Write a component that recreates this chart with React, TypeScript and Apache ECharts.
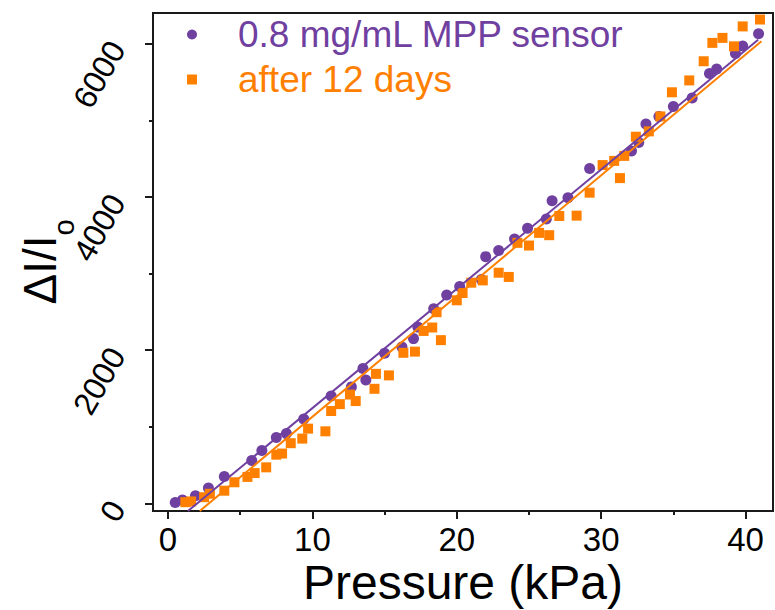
import React, { useEffect, useRef } from 'react';
import * as echarts from 'echarts';

const FONT = '"Liberation Sans", Arial, sans-serif';
const PURPLE = '#7040A0';
const ORANGE = '#FF8000';
const FRAME = '#1a1a1a';

const seriesNames = ['0.8 mg/mL MPP sensor', 'after 12 days'];
const xAxisTitle = 'Pressure (kPa)';

const sensorPressure = [0.5, 1.0, 1.9, 2.8, 3.9, 5.8, 6.5, 7.5, 8.2, 9.4, 11.3, 12.7, 13.5, 13.7, 15.0, 16.2, 17.0, 17.3, 18.4, 19.3, 20.2, 21.7, 22.0, 22.9, 24.0, 24.9, 26.2, 26.6, 27.7, 29.2, 32.1, 32.6, 33.1, 34.0, 35.0, 36.3, 37.5, 38.0, 39.3, 39.8, 40.9];
const sensorResponse = [10, 45, 100, 200, 350, 560, 690, 860, 910, 1100, 1400, 1520, 1760, 1610, 1960, 2040, 2150, 2300, 2540, 2720, 2830, 2920, 3220, 3300, 3450, 3590, 3710, 3950, 3990, 4370, 4600, 4710, 4950, 5050, 5180, 5290, 5610, 5670, 5870, 5970, 6130];

const agedPressure = [1.2, 1.6, 2.5, 2.9, 3.9, 4.6, 5.5, 6.0, 6.8, 7.5, 7.9, 8.5, 9.3, 9.7, 10.9, 11.3, 11.9, 12.6, 13.0, 14.3, 14.4, 15.3, 16.3, 17.1, 17.7, 18.3, 18.9, 18.6, 20.0, 20.4, 21.0, 21.8, 22.9, 23.6, 24.2, 25.0, 25.7, 26.4, 27.1, 28.3, 29.2, 30.1, 30.9, 31.3, 31.6, 32.4, 33.3, 34.1, 34.9, 36.1, 37.1, 37.7, 38.4, 39.2, 39.8, 41.0];
const agedResponse = [15, 25, 80, 125, 165, 275, 345, 395, 470, 635, 650, 785, 845, 975, 940, 1205, 1295, 1420, 1335, 1495, 1690, 1670, 1965, 1980, 2250, 2295, 2130, 2495, 2650, 2745, 2880, 2910, 3010, 2955, 3400, 3365, 3530, 3500, 3750, 3755, 4055, 4415, 4470, 4245, 4535, 4785, 4855, 5050, 5365, 5520, 5770, 6010, 6075, 5965, 6225, 6315];

const sensorFitPressure = [1.38, 40.87];
const sensorFitResponse = [-100, 6050];
const agedFitPressure = [2.2, 41.1];
const agedFitResponse = [-100, 6030];

const xTickValues = [0, 10, 20, 30, 40];
const xTickLabels = ['0', '10', '20', '30', '40'];
const xMinorTickValues = [5, 15, 25, 35];
const yTickValues = [0, 2000, 4000, 6000];
const yTickLabels = ['0', '2000', '4000', '6000'];
const yMinorTickValues = [1000, 3000, 5000];

const X_MIN = -1.04;
const X_MAX = 41.9;
const Y_MIN = -100;
const Y_MAX = 6400;

const zip = (a: number[], b: number[]) => a.map((v, i) => [v, b[i]]);
const labelFor = (values: number[], labels: string[]) => (v: number) => {
  const i = values.indexOf(v);
  return i >= 0 ? labels[i] : String(v);
};

export default function App() {
  const ref = useRef<HTMLDivElement>(null);

  useEffect(() => {
    if (!ref.current) return;
    const chart = echarts.init(ref.current, null, { renderer: 'svg' });
    const tickLine = { color: FRAME, width: 2 };

    chart.setOption({
      animation: false,
      backgroundColor: '#ffffff',
      textStyle: { fontFamily: FONT },
      grid: {
        left: 153,
        right: 2,
        top: 13,
        bottom: 99,
        show: true,
        borderColor: FRAME,
        borderWidth: 2,
        backgroundColor: 'transparent',
        containLabel: false,
        outerBoundsMode: 'none',
      },
      legend: {
        orient: 'vertical',
        left: 182,
        top: 11,
        itemWidth: 10,
        itemHeight: 10,
        itemGap: 8,
        textStyle: { fontSize: 37, fontFamily: FONT, padding: [0, 0, 0, 36] },
        data: [
          { name: seriesNames[0], icon: 'circle', textStyle: { color: PURPLE } },
          { name: seriesNames[1], icon: 'rect', textStyle: { color: ORANGE } },
        ],
      },
      xAxis: [
        {
          type: 'value',
          min: X_MIN,
          max: X_MAX,
          position: 'bottom',
          axisLine: { show: true, onZero: false, lineStyle: { color: FRAME, width: 2 } },
          axisTick: { show: true, inside: false, length: 8, lineStyle: tickLine, customValues: xTickValues },
          axisLabel: {
            customValues: xTickValues,
            formatter: labelFor(xTickValues, xTickLabels),
            fontSize: 33,
            color: '#000',
            margin: 12,
            fontFamily: FONT,
          },
          splitLine: { show: false },
          name: xAxisTitle,
          nameLocation: 'middle',
          nameGap: 47,
          nameMoveOverlap: false,
          nameTextStyle: { fontSize: 48, color: '#000', fontFamily: FONT },
        },
        {
          type: 'value',
          min: X_MIN,
          max: X_MAX,
          position: 'bottom',
          axisLine: { show: false, onZero: false },
          axisTick: { show: true, inside: false, length: 4, lineStyle: tickLine, customValues: xMinorTickValues },
          axisLabel: { show: false },
          splitLine: { show: false },
        },
      ],
      yAxis: [
        {
          type: 'value',
          min: Y_MIN,
          max: Y_MAX,
          position: 'left',
          axisLine: { show: true, onZero: false, lineStyle: { color: FRAME, width: 2 } },
          axisTick: { show: true, inside: false, length: 8, lineStyle: tickLine, customValues: yTickValues },
          axisLabel: {
            customValues: yTickValues,
            formatter: labelFor(yTickValues, yTickLabels),
            fontSize: 32,
            color: '#000',
            margin: 36,
            rotate: 60,
            padding: [0, 0, 40, 0],
            fontFamily: FONT,
          },
          splitLine: { show: false },
          name: '{m|ΔI/I}{s|o}',
          nameLocation: 'middle',
          nameRotate: 90,
          nameGap: 90,
          nameMoveOverlap: false,
          nameTextStyle: {
            color: '#000',
            fontFamily: FONT,
            rich: {
              m: { fontSize: 46, lineHeight: 46, color: '#000', fontFamily: FONT, verticalAlign: 'top' },
              s: { fontSize: 29, lineHeight: 29, padding: [32, 0, 0, 0], color: '#000', fontFamily: FONT, verticalAlign: 'top' },
            },
          },
        },
        {
          type: 'value',
          min: Y_MIN,
          max: Y_MAX,
          position: 'left',
          axisLine: { show: false, onZero: false },
          axisTick: { show: true, inside: false, length: 4, lineStyle: tickLine, customValues: yMinorTickValues },
          axisLabel: { show: false },
          splitLine: { show: false },
        },
      ],
      series: [
        {
          name: seriesNames[0],
          type: 'scatter',
          symbol: 'circle',
          symbolSize: 11,
          itemStyle: { color: PURPLE, opacity: 1 },
          data: zip(sensorPressure, sensorResponse),
          z: 2,
        },
        {
          name: seriesNames[1],
          type: 'scatter',
          symbol: 'rect',
          symbolSize: 10,
          itemStyle: { color: ORANGE, opacity: 1 },
          data: zip(agedPressure, agedResponse),
          z: 3,
        },
        {
          name: 'agedFit',
          type: 'line',
          showSymbol: false,
          symbol: 'none',
          clip: true,
          lineStyle: { color: ORANGE, width: 2 },
          data: zip(agedFitPressure, agedFitResponse),
          z: 4,
        },
        {
          name: 'sensorFit',
          type: 'line',
          showSymbol: false,
          symbol: 'none',
          clip: true,
          lineStyle: { color: PURPLE, width: 2 },
          data: zip(sensorFitPressure, sensorFitResponse),
          z: 5,
        },
      ],
    });

    return () => chart.dispose();
  }, []);

  return (
    <div
      ref={ref}
      style={{ position: 'absolute', left: 0, top: 0, width: 775, height: 610, background: '#fff' }}
    />
  );
}
